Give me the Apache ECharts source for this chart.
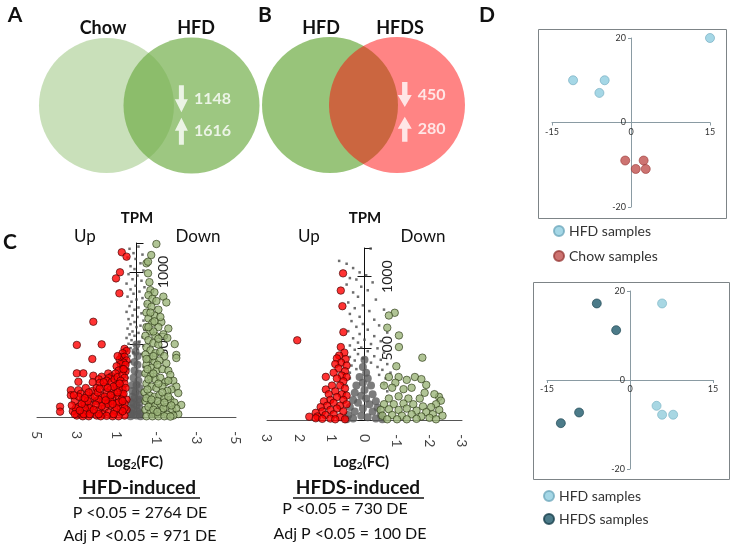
<!DOCTYPE html>
<html>
<head>
<meta charset="utf-8">
<script src="https://cdn.jsdelivr.net/npm/echarts@6/dist/echarts.min.js"></script>
<style>
  html, body { margin: 0; padding: 0; background: #fff; }
  #chart { width: 731px; height: 547px; }
</style>
</head>
<body>
<div id="chart"></div>
<script>
// ---- data ----
const vennASets = ['Chow', 'HFD'];
const vennACounts = [1148, 1616];   // down, up
const vennBSets = ['HFD', 'HFDS'];
const vennBCounts = [450, 280];     // down, up

const volcATicks = [5, 3, 1, -1, -3, -5];
const volcBTicks = [3, 2, 1, 0, -1, -2, -3];

// volcano HFD-induced: [log2FC, TPM]
const volcAUp = [
  [0.74,1136],[0.5,1106],[0.83,998],[1.03,956],[0.86,853],[2.17,657],[3.0,497],[1.75,501],[2.22,400],
  [0.6,470],[0.5,455],[0.7,440],[0.75,415],[0.6,415],[0.85,395],[0.5,390],[0.95,420],[0.65,375],[0.8,365],
  [0.55,360],[1.0,350],[0.7,330],[0.9,320],[0.55,315],
  [3.0,301],[2.67,301],[2.17,285],[1.75,278],[1.42,300],[1.25,280],[1.4,268],[1.9,260],[1.5,250],[2.2,240],
  [1.85,235],[1.25,240],[2.92,243],[1.05,300],[1.1,260],[0.95,275],[0.7,290],[0.6,270],[0.8,250],[0.6,230],[1.0,220],
  [3.3,185],[2.92,185],[3.3,150],[2.8,160],[2.5,150],[2.2,180],[2.0,200],[1.6,210],[1.3,190],[0.9,200],[0.7,190],
  [1.1,160],[1.5,170],[1.8,150],[2.3,130],[2.7,120],[3.1,110],[3.84,71],[3.84,37],
  [3.0,10],[3.2,40],[2.9,70],[2.6,90],[2.3,80],[2.0,110],[1.7,100],[1.4,120],[1.2,130],[0.9,140],[0.7,150],
  [0.5,120],[0.6,90],[0.8,70],[1.0,95],[1.3,80],[1.6,60],[1.9,50],[2.2,30],[2.5,40],[2.8,20],[2.4,5],[2.0,10],
  [1.7,20],[1.4,30],[1.1,40],[0.8,30],[0.5,50],[0.6,10],[0.9,5],[1.2,5],[1.5,8],[1.8,5],[2.7,5],
  [0.55,200],[0.65,160],[0.75,120],[0.6,60],[0.7,40],[0.9,100],[1.0,60],[1.15,20],[1.3,110],[1.45,90],
  [1.6,140],[1.75,75],[1.9,120],[2.05,85],[2.1,140],[2.35,60],[2.45,110],[2.6,60],[2.75,90],[2.9,140],
  [3.05,60],[3.15,150],[2.55,200],[2.4,170],[1.95,170],[1.3,150],[0.95,170],[1.15,210],[0.85,230],[1.45,200],
  [2.65,20],[3.1,20],[1.9,20],[0.7,110],
  [2.35,20],[2.6,130],[2.85,45],[3.25,80],[2.15,50],[1.55,115],[1.2,90],[1.85,195],[1.65,240],[0.65,330]
];
const volcADown = [
  [-1.0,1193],[-0.74,1117],[-0.5,1060],[-0.58,1071],[-0.58,991],[-0.65,930],
  [-0.7,875],[-0.9,860],[-0.6,840],[-1.35,830],[-0.8,815],[-1.0,800],[-1.5,790],[-0.55,780],[-0.75,760],
  [-1.1,740],[-0.5,720],[-0.9,700],
  [-1.25,655],[-1.6,610],[-1.1,620],[-1.35,570],[-1.55,545],[-0.6,680],[-0.8,650],[-0.5,620],[-0.7,590],
  [-0.95,560],[-0.45,560],[-0.6,530],[-0.85,510],[-1.1,500],[-1.92,503],
  [-2.0,428],[-2.0,407],[-0.5,480],[-0.7,460],[-0.95,440],[-1.2,450],[-1.4,420],[-0.45,430],[-0.65,400],
  [-0.9,380],[-1.15,390],[-1.5,370],[-0.5,360],[-0.75,340],[-1.0,320],[-1.3,330],[-1.6,320],
  [-1.7,290],[-1.85,250],[-2.0,210],[-1.75,190],[-2.1,165],[-0.45,300],[-0.7,280],[-0.95,260],[-1.2,270],
  [-1.45,240],[-0.5,230],[-0.75,210],[-1.0,200],[-1.3,210],[-1.55,180],
  [-2.25,83],[-2.1,20],[-0.4,170],[-0.65,150],[-0.9,140],[-1.15,150],[-1.4,130],[-1.7,120],[-1.9,100],
  [-0.45,110],[-0.7,90],[-0.95,80],[-1.2,90],[-1.5,70],[-1.8,50],[-2.0,60],[-0.45,50],[-0.7,30],[-0.95,20],
  [-1.25,35],[-1.55,15],[-1.85,10],[-0.5,5],[-0.8,5],[-1.1,5],[-1.4,5],[-1.7,3],
  [-0.5,400],[-0.55,330],[-0.6,260],[-0.55,190],[-0.5,130],[-0.6,70],[-0.85,50],[-1.05,110],[-1.3,170],
  [-1.1,230],[-0.85,300],[-1.05,360],[-0.85,420],[-1.1,540],[-0.85,590],[-0.6,620],[-0.7,720],[-1.2,690],
  [-0.9,660],[-1.6,250],[-1.6,140],[-1.75,80],[-1.35,60],[-1.05,35],[-1.4,100],[-0.75,120]
];
const volcANs = [
  [0.35,1160],[-0.1,1175],[0.15,1130],[-0.3,1120],[0.45,1100],[0.05,1090],[-0.2,1060],[0.3,1040],[0.1,1020],
  [-0.35,1010],[0.4,985],[-0.05,975],[0.2,950],[-0.25,940],[0.5,920],[0.05,905],[-0.4,895],[0.3,880],
  [-0.15,865],[0.15,850],[0.45,830],[-0.3,820],[0.0,810],[0.25,795],[-0.45,780],[0.35,765],[-0.1,755],
  [0.1,740],[0.5,725],[-0.25,715],[0.2,700],[-0.05,690],[0.4,675],[-0.35,665],[0.1,655],[0.3,640],
  [-0.2,630],[0.0,620],[0.45,610],[-0.4,600],[0.2,590],[-0.1,580],[0.35,570],[0.1,560],[-0.3,550],
  [0.5,545],[0.25,530],[-0.15,520],[0.4,505],[0.05,500],[-0.35,490],[0.3,475],[-0.05,470],[0.45,455],
  [0.15,445],[-0.25,435],[0.35,420],[0.5,400],[-0.4,395],[0.3,380],[0.45,360],[-0.35,345],[0.4,330],
  [0.5,310],[-0.4,290],[0.45,270]
];
const volcANsCore = [
  [0,500],[0.05,450],[-0.05,420],[0.1,380],[-0.05,360],[0.1,320],[-0.1,300],[0.15,270],[-0.1,250],[0.2,220],
  [0,220],[-0.15,200],[0.2,180],[0.05,170],[-0.15,150],[0.2,140],[0.1,130],[-0.1,120],[-0.15,100],[0.25,100],
  [0.15,90],[0,80],[-0.15,60],[0.25,60],[0.15,50],[-0.05,40],[-0.2,25],[0.25,25],[0.15,15],[0,10],[-0.2,5],[0.3,5]
];

// volcano HFDS-induced
const volcBUp = [
  [0.66,1023],[0.73,903],[0.68,794],[2.07,556],[0.65,613],[0.73,509],
  [0.62,470],[0.78,450],[0.85,430],[0.58,425],[0.72,400],[0.55,380],[0.9,390],[0.8,360],[0.6,340],[0.95,330],
  [0.7,310],[0.55,300],[1.19,301],[0.85,290],[0.65,270],[1.19,213],
  [1.0,240],[0.75,240],[0.6,220],[0.9,200],[1.1,180],[0.7,180],[0.55,170],[0.85,160],[1.05,140],[1.25,130],
  [0.65,140],[0.95,120],[1.15,100],[1.35,90],[0.75,100],[0.55,110],[0.85,80],[1.05,70],[1.3,60],[1.5,50],
  [0.65,60],[0.95,40],[1.2,35],[1.45,25],[1.7,23],[1.5,12],[0.75,20],[1.05,10],[1.3,8],[0.6,5],[0.9,5]
];
const volcBDown = [
  [-0.93,748],[-0.75,729],[-0.7,644],[-1.06,590],[-1.06,509],[-1.78,435],[-0.98,375],
  [-0.75,300],[-1.05,300],[-0.95,260],[-1.3,280],[-1.55,300],[-1.75,285],[-1.9,245],[-1.45,225],[-1.2,215],
  [-0.85,225],[-0.6,240],[-2.29,162],
  [-1.85,190],[-2.15,180],[-2.35,135],[-2.2,110],[-1.7,150],[-1.35,150],[-1.05,165],[-0.75,150],[-0.6,110],
  [-0.9,110],[-1.2,115],[-1.5,110],[-1.8,95],[-2.05,90],[-2.3,70],[-0.5,70],[-0.75,75],[-1.05,70],[-1.3,80],
  [-1.6,65],[-1.9,55],[-2.1,40],[-2.4,30],[-0.55,30],[-0.85,35],[-1.15,30],[-1.45,40],[-1.75,25],[-2.0,15],
  [-0.7,5],[-1.0,5],[-1.3,5],[-1.6,8],[-2.2,5]
];
const volcBNs = [
  [-0.19,1196],[0.78,1110],[0.55,1090],[0.35,1060],[0.15,1030],[-0.05,1010],[0.45,990],[0.25,980],[-0.25,960],
  [0.55,945],[0.1,930],[-0.1,905],[0.35,890],[0.2,860],[-0.35,840],[0.5,820],[0.05,800],[0.3,780],[-0.15,760],
  [-0.6,770],[0.45,740],[0.15,720],[-0.3,700],[0.4,690],[0.05,670],[-0.45,660],[0.25,650],[-0.1,630],[0.5,620],
  [-0.7,610],[0.15,600],[-0.3,585],[0.35,570],[0,560],[-0.5,550],[0.2,540],[-0.2,530],[0.45,520],[0.1,505],
  [-0.4,500],[0.3,490],[-0.1,480],[-0.6,470],[0.2,460],[0.45,440],[-0.3,445],[0.05,430],[-0.5,420],[0.3,415],
  [-0.2,400],[-0.7,390],[0.4,380],[-0.4,370],[0.25,355],[-0.55,350],[-0.8,330],[0.45,330],[-0.45,315],
  [-0.65,290],[0.45,290],[-0.6,250],[0.55,240],[-0.7,200],[0.6,190]
];
const volcBNsCore = [
  [0,420],[0.05,370],[-0.05,330],[0.15,300],[-0.1,290],[0.05,260],[0.25,240],[-0.2,240],[0,210],[0.3,190],
  [-0.25,180],[0.1,170],[-0.05,150],[0.35,140],[-0.35,130],[0.2,120],[-0.15,110],[0.45,90],[-0.4,85],[0.05,80],
  [0.3,60],[-0.25,60],[0.5,35],[-0.5,35],[0.1,30],[-0.1,20],[0.35,10],[-0.35,10],[0.55,5],[-0.55,5]
];

// PCA
const pcaTopHFD = [[15,20],[-11,10],[-5,10],[-6,7]];
const pcaTopChow = [[-1.1,-9],[0.9,-11],[2.4,-9],[2.8,-11]];
const pcaBotHFD = [[5.8,17.2],[4.8,-5.8],[5.8,-7.8],[7.8,-7.8]];
const pcaBotHFDS = [[-6,17.2],[-2.5,11.2],[-9.2,-7.3],[-12.5,-9.7]];

// ---- chart ----
const FONT = 'Lato, "Open Sans", sans-serif';
const chart = echarts.init(document.getElementById('chart'));

const noSplit = { show: false };

const volcXAxis = (grid, lim) => ({
  type: 'value', gridIndex: grid, min: -lim, max: lim, inverse: true,
  axisLine: { onZero: false, lineStyle: { color: '#555', width: 1 } },
  axisTick: { show: false }, splitLine: noSplit, axisLabel: { show: false }
});
// the TPM axis sits at log2FC = 0, i.e. the middle of the grid
const volcYAxis = (grid, halfWidth, margin) => ([
  {
    type: 'value', gridIndex: grid, min: 0, max: 1200, interval: 500, position: 'left', offset: -halfWidth,
    axisLine: { onZero: false, lineStyle: { color: '#111', width: 1 } },
    axisTick: { length: 7, lineStyle: { color: '#111' } }, splitLine: noSplit,
    axisLabel: {
      inside: true, rotate: 90, margin, fontSize: 14, color: '#222', fontFamily: FONT,
      formatter: (v) => (v === 0 ? '' : String(v))
    }
  },
  {
    type: 'value', gridIndex: grid, min: 0, max: 1200, interval: 500, position: 'left', offset: -halfWidth,
    axisLine: { show: false, onZero: false },
    axisTick: { inside: true, length: 7, lineStyle: { color: '#111' } },
    axisLabel: { show: false }, splitLine: noSplit
  }
]);
const pcaAxis = (grid, lim, interval, pos, offset) => ({
  type: 'value', gridIndex: grid, min: -lim, max: lim, interval, position: pos, offset,
  axisLine: { onZero: false, lineStyle: { color: '#8a9ba3', width: 1 } },
  axisTick: { length: 3, lineStyle: { color: '#8a9ba3' } }, splitLine: noSplit,
  axisLabel: { fontSize: 9, color: '#333', margin: 5, fontFamily: FONT }
});

const sigStyle = (color, border) => ({ color, borderColor: border, borderWidth: 0.8 });

const volcSeries = (xi, yi, up, down, ns, core, ticks) => ([
  { type: 'scatter', xAxisIndex: xi, yAxisIndex: yi, data: core, symbol: 'circle', symbolSize: 8,
    itemStyle: { color: '#5b5b5b' }, silent: true, z: 2 },
  { type: 'scatter', xAxisIndex: xi, yAxisIndex: yi, data: ns, symbol: 'rect', symbolSize: 2.5,
    itemStyle: { color: '#4a4a4a' }, silent: true, z: 2 },
  { type: 'scatter', xAxisIndex: xi, yAxisIndex: yi, data: up, symbolSize: 7.5,
    itemStyle: sigStyle('#ff0000', '#3a0000'), silent: true, z: 3 },
  { type: 'scatter', xAxisIndex: xi, yAxisIndex: yi, data: down, symbolSize: 7.5,
    itemStyle: sigStyle('#9cb57a', '#26330f'), silent: true, z: 3 },
  // log2FC tick labels, written top-to-bottom under the axis line
  { type: 'scatter', xAxisIndex: xi, yAxisIndex: yi, data: ticks.map((t) => [t, 0]), symbolSize: 0,
    silent: true, z: 4,
    label: { show: true, position: 'bottom', distance: 14, rotate: -90, align: 'left', verticalAlign: 'middle',
      fontSize: 14, color: '#111', fontFamily: FONT, formatter: (p) => String(p.value[0]) } }
]);

const arrowPath = 'path://M4,0L9,0L9,14L13,14L6.5,27L0,14L4,14Z';
const arrowSeries = (xi, yi, pts, counts, size) => ({
  type: 'scatter', xAxisIndex: xi, yAxisIndex: yi, symbol: arrowPath, symbolSize: size,
  data: pts.map((p, i) => ({ value: p, symbolRotate: i === 0 ? 0 : 180 })),
  itemStyle: { color: '#fff' }, silent: true, z: 5,
  label: {
    show: true, position: 'right', distance: 6, color: '#fff', fontSize: 16, fontWeight: 'bold',
    fontFamily: FONT, formatter: (p) => String(counts[p.dataIndex])
  }
});

const txt = (text, x, y, size, weight) => ({
  type: 'text', x, y, silent: true,
  style: { text, fill: '#111', font: `${weight} ${size}px ${FONT}`, align: 'center', verticalAlign: 'middle' }
});
const uline = (x1, x2, y) => ({ type: 'line', silent: true, shape: { x1, y1: y, x2, y2: y }, style: { stroke: '#111', lineWidth: 1.5 } });
const subText = (x, y) => ({
  type: 'text', x, y, silent: true,
  style: {
    text: '{m|Log}{s|2}{m|(FC)}', align: 'center', verticalAlign: 'middle', fill: '#111',
    rich: {
      m: { fontSize: 15, fontWeight: 'bold', fontFamily: FONT, fill: '#111', lineHeight: 18 },
      s: { fontSize: 10, fontWeight: 'bold', fontFamily: FONT, fill: '#111', verticalAlign: 'bottom', lineHeight: 12, padding: [6, 0, 0, 0] }
    }
  }
});

chart.setOption({
  animation: false,
  textStyle: { fontFamily: FONT },
  grid: [
    { left: 37, top: 243, width: 199, height: 174 },
    { left: 267, top: 248, width: 195, height: 172 },
    { left: 552, top: 38, width: 158, height: 169 },
    { left: 547, top: 291, width: 166, height: 178 },
    { left: 39, top: 38, width: 220, height: 135 },
    { left: 262, top: 37, width: 203, height: 136 }
  ],
  xAxis: [
    volcXAxis(0, 5),
    volcXAxis(1, 3),
    pcaAxis(2, 15, 15, 'bottom', -84.5),
    pcaAxis(3, 15, 15, 'bottom', -89),
    { type: 'value', gridIndex: 4, min: -1.63, max: 1.63, show: false },
    { type: 'value', gridIndex: 5, min: -1.5, max: 1.5, show: false }
  ],
  yAxis: [
    ...volcYAxis(0, 99.5, 20),
    ...volcYAxis(1, 97.5, 16),
    pcaAxis(2, 20, 20, 'left', -79),
    pcaAxis(3, 20, 20, 'left', -83),
    { type: 'value', gridIndex: 4, min: -1, max: 1, show: false },
    { type: 'value', gridIndex: 5, min: -1, max: 1, show: false }
  ],
  legend: [
    { data: ['HFD samples', 'Chow samples'], orient: 'vertical', left: 548, top: 219, icon: 'circle',
      itemWidth: 10, itemHeight: 10, itemGap: 11, selectedMode: false,
      textStyle: { fontSize: 14, color: '#333', fontFamily: FONT } },
    { data: ['HFD samples', 'HFDS samples'], orient: 'vertical', left: 538, top: 484, icon: 'circle',
      itemWidth: 10, itemHeight: 10, itemGap: 9, selectedMode: false,
      textStyle: { fontSize: 14, color: '#333', fontFamily: FONT } }
  ],
  series: [
    // venn A
    { type: 'scatter', name: vennASets[0], xAxisIndex: 4, yAxisIndex: 6, data: [[-0.63, 0]], symbolSize: 135,
      itemStyle: { color: 'rgba(112,173,71,0.47)' }, silent: true, z: 1 },
    { type: 'scatter', name: vennASets[1], xAxisIndex: 4, yAxisIndex: 6, data: [[0.63, 0]], symbolSize: 136,
      itemStyle: { color: 'rgba(112,173,71,0.86)' }, silent: true, z: 2 },
    arrowSeries(4, 6, [[0.48, 0.10], [0.48, -0.38]], vennACounts, [13, 27]),
    // venn B
    { type: 'scatter', name: vennBSets[0], xAxisIndex: 5, yAxisIndex: 7, data: [[-0.495, 0]], symbolSize: 136,
      itemStyle: { color: 'rgba(112,173,71,0.9)' }, silent: true, z: 1 },
    { type: 'scatter', name: vennBSets[1], xAxisIndex: 5, yAxisIndex: 7, data: [[0.495, 0]], symbolSize: 136,
      itemStyle: { color: 'rgba(255,7,7,0.62)' }, silent: true, z: 2 },
    arrowSeries(5, 7, [[0.61, 0.155], [0.61, -0.355]], vennBCounts, [14, 25]),
    // volcanos
    ...volcSeries(0, 0, volcAUp, volcADown, volcANs, volcANsCore, volcATicks),
    ...volcSeries(1, 2, volcBUp, volcBDown, volcBNs, volcBNsCore, volcBTicks),
    // PCA
    { type: 'scatter', name: 'HFD samples', xAxisIndex: 2, yAxisIndex: 4, data: pcaTopHFD, symbolSize: 9,
      itemStyle: { color: '#8fcde0', borderColor: '#6fa9bd', borderWidth: 0.8 } },
    { type: 'scatter', name: 'Chow samples', xAxisIndex: 2, yAxisIndex: 4, data: pcaTopChow, symbolSize: 9,
      itemStyle: { color: '#c0504d', borderColor: '#9a3c3a', borderWidth: 0.8 } },
    { type: 'scatter', name: 'HFD samples', xAxisIndex: 3, yAxisIndex: 5, data: pcaBotHFD, symbolSize: 9,
      itemStyle: { color: '#92cddc', borderColor: '#74b0c2', borderWidth: 0.8 } },
    { type: 'scatter', name: 'HFDS samples', xAxisIndex: 3, yAxisIndex: 5, data: pcaBotHFDS, symbolSize: 9,
      itemStyle: { color: '#1f5a6b', borderColor: '#163f4b', borderWidth: 0.8 } }
  ],
  graphic: [
    txt('A', 15, 15, 21, 'bold'),
    txt('B', 265, 15, 21, 'bold'),
    txt('D', 487, 15, 21, 'bold'),
    txt('C', 10, 242, 21, 'bold'),
    txt(vennASets[0], 103, 28, 18, 'bold'),
    txt(vennASets[1], 196, 28, 18, 'bold'),
    txt(vennBSets[0], 321, 28, 18, 'bold'),
    txt(vennBSets[1], 400, 28, 18, 'bold'),
    txt('TPM', 137, 218, 15, 'bold'),
    txt('Up', 85, 237, 17, 'normal'),
    txt('Down', 198, 237, 17, 'normal'),
    txt('TPM', 365, 218, 15, 'bold'),
    txt('Up', 309, 237, 17, 'normal'),
    txt('Down', 423, 237, 17, 'normal'),
    subText(135, 462),
    subText(361, 462),
    txt('HFD-induced', 139, 488, 19, 'bold'),
    uline(79, 200, 498),
    txt('HFDS-induced', 358, 488, 19, 'bold'),
    uline(293, 424, 498),
    txt('P <0.05 = 2764 DE', 140, 513, 16, 'normal'),
    txt('Adj P <0.05 = 971 DE', 140, 536, 16, 'normal'),
    txt('P <0.05 = 730 DE', 345, 509, 16, 'normal'),
    txt('Adj P <0.05 = 100 DE', 350, 534, 16, 'normal'),
    { type: 'rect', silent: true, shape: { x: 538.5, y: 29.5, width: 188, height: 189 },
      style: { fill: 'none', stroke: '#7d8487', lineWidth: 1 } },
    { type: 'rect', silent: true, shape: { x: 533.5, y: 282.5, width: 196, height: 197 },
      style: { fill: 'none', stroke: '#7d8487', lineWidth: 1 } }
  ]
});
</script>
</body>
</html>
